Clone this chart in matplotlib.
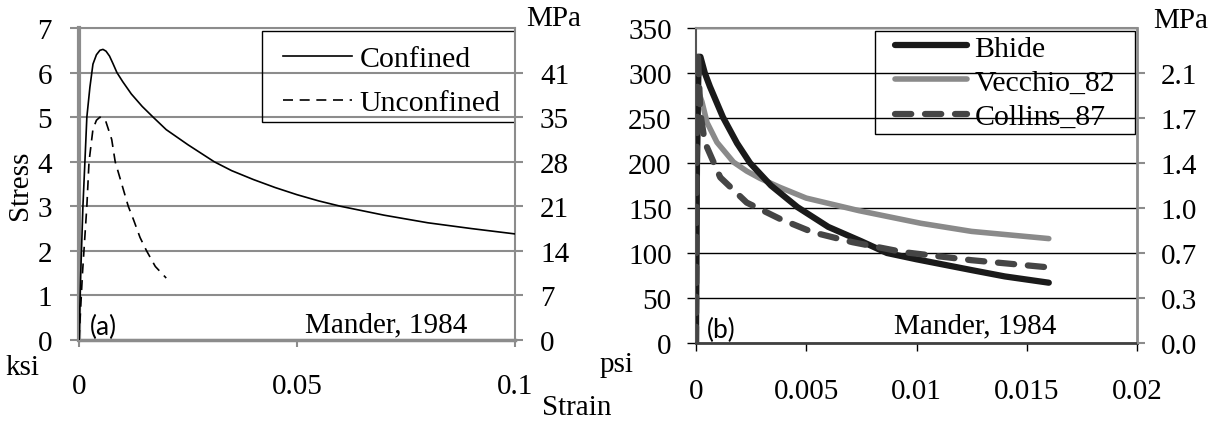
import matplotlib
matplotlib.use("Agg")
import matplotlib.pyplot as plt
from matplotlib.patches import Rectangle

W, H = 1223, 427

# (a) Mander 1984 - stress in ksi against strain
conf_strain = [0, 0.0004, 0.0009, 0.0014, 0.0018, 0.0025, 0.0032, 0.004, 0.0048, 0.0055,
               0.0062, 0.007, 0.0078, 0.0087, 0.01, 0.012, 0.0145, 0.017, 0.02, 0.025,
               0.031, 0.035, 0.04, 0.045, 0.05, 0.055, 0.06, 0.07, 0.08, 0.09, 0.1]
conf_stress = [0, 1.5, 3.0, 4.1, 5.0, 5.67, 6.19, 6.4, 6.5, 6.52,
               6.48, 6.37, 6.2, 6.0, 5.8, 5.52, 5.24, 5.0, 4.72, 4.38,
               4.0, 3.8, 3.6, 3.42, 3.26, 3.12, 3.0, 2.8, 2.63, 2.5, 2.38]
unconf_strain = [0, 0.0008, 0.0018, 0.0023, 0.0032, 0.004, 0.0048, 0.006, 0.0075,
                 0.0083, 0.0098, 0.0113, 0.0125, 0.014, 0.0155, 0.0175, 0.02]
unconf_stress = [0, 1.5, 3.0, 4.0, 4.73, 4.93, 5.0, 4.95, 4.5,
                 4.0, 3.5, 3.0, 2.7, 2.3, 2.0, 1.65, 1.39]
ksi_ticks = [0, 1, 2, 3, 4, 5, 6, 7]
mpa_a_ticks = [0, 1, 2, 3, 4, 5, 6]
mpa_a_labels = ["0", "7", "14", "21", "28", "35", "41"]
xa_ticks = [0, 0.05, 0.1]
xa_labels = ["0", "0.05", "0.1"]

# (b) tension stiffening - stress in psi
bhide_strain = [0, 0.00004, 0.00012, 0.0002, 0.0004, 0.00063, 0.00122, 0.00186, 0.00245,
                0.0034, 0.0046, 0.006, 0.0075, 0.00866, 0.01, 0.0125, 0.014, 0.016]
bhide_stress = [0, 200, 318, 318, 300, 285, 251, 222, 200,
                175, 151, 129, 113, 100, 93, 81, 74, 67]
vecchio_strain = [0, 0.00004, 0.0001, 0.00027, 0.0005, 0.00095, 0.0017, 0.0023, 0.0029,
                  0.0038, 0.005, 0.0074, 0.0102, 0.0125, 0.016]
vecchio_stress = [0, 150, 280, 268, 245, 223, 201, 191, 183,
                  173, 161, 147, 133, 124, 116]
collins_strain = [0, 0.00003, 0.00008, 0.0002, 0.0004, 0.0011, 0.0023, 0.0038, 0.0053,
                  0.0071, 0.0094, 0.0125, 0.016]
collins_stress = [0, 200, 325, 255, 223, 184, 156, 138, 123,
                  112, 101, 92, 84]
psi_ticks = [0, 50, 100, 150, 200, 250, 300, 350]
mpa_b_ticks = [0, 50, 100, 150, 200, 250, 300]
mpa_b_labels = ["0.0", "0.3", "0.7", "1.0", "1.4", "1.7", "2.1"]
xb_ticks = [0, 0.005, 0.01, 0.015, 0.02]
xb_labels = ["0", "0.005", "0.01", "0.015", "0.02"]

plt.rcParams['font.family'] = ['Liberation Serif', 'DejaVu Serif']
FS = 21
LFS = 21.5
GRAY = '#8c8c8c'

fig = plt.figure(figsize=(W / 100, H / 100), dpi=100)

# ---------- panel (a)
ax1 = fig.add_axes([79 / W, 1 - 341 / H, 436 / W, 312 / H])
ax1.plot(conf_strain, conf_stress, color='black', lw=1.2, label='Confined', zorder=3)
ax1.plot(unconf_strain, unconf_stress, color='black', lw=1.2, ls=(0, (6, 4)),
         label='Unconfined', zorder=3)
ax1.set_xlim(0, 0.1)
ax1.set_ylim(0, 7)
ax1.set_yticks(ksi_ticks)
ax1.set_xticks(xa_ticks)
ax1.set_xticklabels(xa_labels)
ax1.grid(axis='y', color=GRAY, lw=1.5, zorder=1)
ax1.set_axisbelow(True)
for s in ['top', 'right', 'bottom']:
    ax1.spines[s].set_color(GRAY)
    ax1.spines[s].set_linewidth(1.5)
ax1.spines['left'].set_color(GRAY)
ax1.spines['left'].set_linewidth(3)
ax1.spines['bottom'].set_linewidth(2.5)
ax1.tick_params(axis='y', direction='out', length=6.5, width=1.5, color=GRAY,
                labelsize=FS, pad=13)
ax1.tick_params(axis='x', direction='out', length=5, width=1.5, color=GRAY,
                labelsize=FS, pad=19)
ax1r = ax1.twinx()
ax1r.set_ylim(0, 7)
ax1r.set_yticks(mpa_a_ticks)
ax1r.set_yticklabels(mpa_a_labels)
ax1r.tick_params(axis='y', direction='out', length=6, width=1.5, color=GRAY,
                 labelsize=FS, pad=12)
for s in ax1r.spines.values():
    s.set_visible(False)
ax1.legend(loc='upper left', bbox_to_anchor=(0.468, 0.945), fontsize=LFS,
           frameon=False, borderaxespad=0, borderpad=0, handlelength=2.3,
           handletextpad=0.27, labelspacing=0.57)
ax1.add_patch(Rectangle((0.42, 0.699), 0.58, 0.291, transform=ax1.transAxes,
                        fill=False, edgecolor='black', lw=1.0, zorder=2))
ax1.text(0.0025, 0.31, '(a)', family='Lato', fontsize=19, va='center', ha='left')
ax1.text(0.0705, 0.36, 'Mander, 1984', fontsize=FS, va='center', ha='center')

# ---------- panel (b)
ax2 = fig.add_axes([696 / W, 1 - 344 / H, 441 / W, 315 / H])
ax2.plot(bhide_strain, bhide_stress, color='#1a1a1a', lw=4.5, solid_capstyle='round',
         label='Bhide', zorder=4)
ax2.plot(vecchio_strain, vecchio_stress, color='#8a8a8a', lw=4, solid_capstyle='round',
         label='Vecchio_82', zorder=3)
ax2.plot(collins_strain, collins_stress, color='#454545', lw=4.5, ls=(0, (2.6, 2.2)),
         dash_capstyle='round', label='Collins_87', zorder=5)
ax2.set_xlim(0, 0.02)
ax2.set_ylim(0, 350)
ax2.set_yticks(psi_ticks)
ax2.set_xticks(xb_ticks)
ax2.set_xticklabels(xb_labels)
ax2.grid(axis='y', color='black', lw=1.0, zorder=1)
ax2.spines['top'].set_color(GRAY)
ax2.spines['top'].set_linewidth(1.5)
ax2.spines['right'].set_color(GRAY)
ax2.spines['right'].set_linewidth(2)
ax2.spines['left'].set_color('#555555')
ax2.spines['left'].set_linewidth(1.5)
ax2.spines['bottom'].set_color('#404040')
ax2.spines['bottom'].set_linewidth(2)
ax2.tick_params(axis='y', direction='out', length=6.5, width=1.0, color='black',
                labelsize=FS, pad=11)
ax2.tick_params(axis='x', direction='out', length=6, width=1.0, color='black',
                labelsize=FS, pad=19)
ax2r = ax2.twinx()
ax2r.set_ylim(0, 350)
ax2r.set_yticks(mpa_b_ticks)
ax2r.set_yticklabels(mpa_b_labels)
ax2r.tick_params(axis='y', direction='out', length=6, width=1.5, color=GRAY,
                 labelsize=FS, pad=11)
for s in ax2r.spines.values():
    s.set_visible(False)
leg2 = ax2.legend(loc='upper left', bbox_to_anchor=(0.451, 0.978), fontsize=LFS,
                  frameon=False, borderaxespad=0, borderpad=0, handlelength=2.4,
                  handletextpad=0.27, labelspacing=0.24)
leg2.set_zorder(0)
ax2.add_patch(Rectangle((0.406, 0.663), 0.5895, 0.327, transform=ax2.transAxes,
                        fill=False, edgecolor='black', lw=1.0, zorder=2))
ax2.text(0.0005, 15, '(b)', family='Lato', fontsize=19, va='center', ha='left')
ax2.text(0.01265, 20, 'Mander, 1984', fontsize=FS, va='center', ha='center')

# ---------- loose labels
fig.text(554 / W, 1 - 19 / H, 'MPa', fontsize=FS, ha='center', va='center')
fig.text(1181 / W, 1 - 21 / H, 'MPa', fontsize=FS, ha='center', va='center')
fig.text(22 / W, 1 - 368 / H, 'ksi', fontsize=FS, ha='center', va='center')
fig.text(617 / W, 1 - 365 / H, 'psi', fontsize=FS, ha='center', va='center')
fig.text(577 / W, 1 - 408 / H, 'Strain', fontsize=FS, ha='center', va='center')
fig.text(20 / W, 1 - 185 / H, 'Stress', fontsize=FS, ha='center', va='center',
         rotation=90)

fig.savefig('out.png', dpi=100)
